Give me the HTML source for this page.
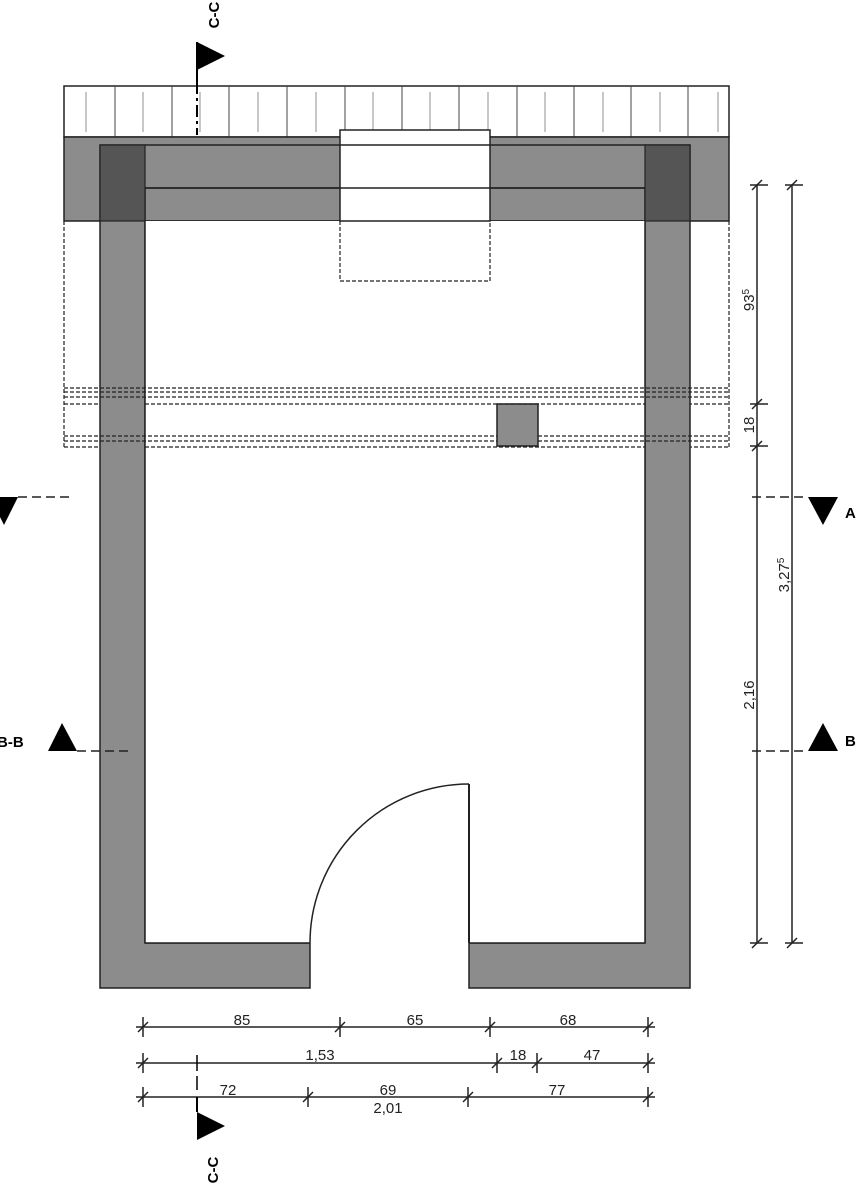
<!DOCTYPE html>
<html><head><meta charset="utf-8"><style>body{margin:0;background:#fff}svg{display:block}text{font-family:"Liberation Sans",sans-serif;font-size:15px;fill:#222}</style></head><body>
<svg width="857" height="1200" viewBox="0 0 857 1200" xmlns="http://www.w3.org/2000/svg">
<rect x="64" y="86" width="665" height="51" fill="#fff" stroke="#222" stroke-width="1.5"/>
<g stroke="#444" stroke-width="1">
<line x1="115" y1="86" x2="115" y2="137"/><line x1="172" y1="86" x2="172" y2="137"/><line x1="229" y1="86" x2="229" y2="137"/><line x1="287" y1="86" x2="287" y2="137"/><line x1="345" y1="86" x2="345" y2="137"/><line x1="402" y1="86" x2="402" y2="137"/><line x1="459" y1="86" x2="459" y2="137"/><line x1="517" y1="86" x2="517" y2="137"/><line x1="574" y1="86" x2="574" y2="137"/><line x1="631" y1="86" x2="631" y2="137"/><line x1="688" y1="86" x2="688" y2="137"/>
</g>
<g stroke="#777" stroke-width="0.8">
<line x1="86" y1="92" x2="86" y2="132"/><line x1="143" y1="92" x2="143" y2="132"/><line x1="200" y1="92" x2="200" y2="132"/><line x1="258" y1="92" x2="258" y2="132"/><line x1="316" y1="92" x2="316" y2="132"/><line x1="373" y1="92" x2="373" y2="132"/><line x1="430" y1="92" x2="430" y2="132"/><line x1="488" y1="92" x2="488" y2="132"/><line x1="545" y1="92" x2="545" y2="132"/><line x1="603" y1="92" x2="603" y2="132"/><line x1="660" y1="92" x2="660" y2="132"/><line x1="718" y1="92" x2="718" y2="132"/>
</g>
<rect x="64" y="137" width="665" height="84" fill="#8c8c8c" stroke="#222" stroke-width="1.5"/>
<g fill="none" stroke="#222" stroke-width="1.2" stroke-dasharray="4,2">
<line x1="64" y1="221" x2="64" y2="447"/><line x1="729" y1="221" x2="729" y2="447"/>
<line x1="64" y1="388" x2="729" y2="388"/><line x1="64" y1="392" x2="729" y2="392"/><line x1="64" y1="397" x2="729" y2="397"/><line x1="64" y1="404" x2="729" y2="404"/>
<line x1="64" y1="436" x2="729" y2="436"/><line x1="64" y1="441" x2="729" y2="441"/><line x1="64" y1="447" x2="729" y2="447"/>
</g>
<path d="M100 145 H690 V988 H469 V943 H645 V188 H145 V943 H310 V988 H100 Z" fill="#8c8c8c" stroke="#222" stroke-width="1.5"/>
<rect x="100" y="145" width="45" height="76" fill="#555" stroke="#222" stroke-width="1.2"/>
<rect x="645" y="145" width="45" height="76" fill="#555" stroke="#222" stroke-width="1.2"/>
<line x1="145" y1="221" x2="645" y2="221" stroke="#222" stroke-width="1.5"/>
<rect x="145" y="221" width="500" height="722" fill="#fff"/>
<line x1="145" y1="221" x2="145" y2="943" stroke="#222" stroke-width="1.5"/>
<line x1="645" y1="221" x2="645" y2="943" stroke="#222" stroke-width="1.5"/>
<line x1="145" y1="943" x2="310" y2="943" stroke="#222" stroke-width="1.5"/>
<line x1="469" y1="943" x2="645" y2="943" stroke="#222" stroke-width="1.5"/>
<line x1="145" y1="188" x2="645" y2="188" stroke="#222" stroke-width="1.5"/>
<g fill="none" stroke="#222" stroke-width="1.2" stroke-dasharray="4,2">
<line x1="100" y1="388" x2="690" y2="388"/><line x1="100" y1="392" x2="690" y2="392"/><line x1="100" y1="397" x2="690" y2="397"/><line x1="145" y1="404" x2="645" y2="404"/>
<line x1="100" y1="436" x2="690" y2="436"/><line x1="100" y1="441" x2="690" y2="441"/><line x1="145" y1="447" x2="645" y2="447"/>
</g>
<rect x="497" y="404" width="41" height="42" fill="#8c8c8c" stroke="#222" stroke-width="1.5"/>
<rect x="340" y="130" width="150" height="91" fill="#fff" stroke="#222" stroke-width="1.5"/>
<line x1="340" y1="145" x2="490" y2="145" stroke="#222" stroke-width="1.5"/>
<line x1="340" y1="188" x2="490" y2="188" stroke="#222" stroke-width="1.5"/>
<path d="M340 221 V281 H490 V221" fill="none" stroke="#222" stroke-width="1.2" stroke-dasharray="4,2"/>
<line x1="469" y1="784" x2="469" y2="943" stroke="#222" stroke-width="2"/>
<path d="M469 784 A159 159 0 0 0 310 943" fill="none" stroke="#222" stroke-width="1.5"/>
<g stroke="#222" stroke-width="1.5">
<line x1="757" y1="185" x2="757" y2="943"/><line x1="792" y1="185" x2="792" y2="943"/>
<line x1="750" y1="185" x2="768" y2="185"/><line x1="785" y1="185" x2="803" y2="185"/>
<line x1="750" y1="404" x2="768" y2="404"/><line x1="750" y1="446" x2="768" y2="446"/>
<line x1="750" y1="943" x2="768" y2="943"/><line x1="785" y1="943" x2="803" y2="943"/>
<line x1="752" y1="190" x2="762" y2="180"/><line x1="787" y1="190" x2="797" y2="180"/>
<line x1="752" y1="409" x2="762" y2="399"/><line x1="752" y1="451" x2="762" y2="441"/>
<line x1="752" y1="948" x2="762" y2="938"/><line x1="787" y1="948" x2="797" y2="938"/>
</g>
<text transform="translate(754,300) rotate(-90)" text-anchor="middle">93<tspan font-size="10" dy="-5">5</tspan></text>
<text transform="translate(754,425) rotate(-90)" text-anchor="middle">18</text>
<text transform="translate(754,695) rotate(-90)" text-anchor="middle">2,16</text>
<text transform="translate(789,575) rotate(-90)" text-anchor="middle">3,27<tspan font-size="10" dy="-5">5</tspan></text>
<line x1="752" y1="497" x2="808" y2="497" stroke="#222" stroke-width="1.5" stroke-dasharray="9,5"/>
<polygon points="808,497 838,497 823,525" fill="#000"/>
<text x="845" y="518" font-size="20" font-weight="bold" style="fill:#000">A</text>
<line x1="18" y1="497" x2="72" y2="497" stroke="#222" stroke-width="1.5" stroke-dasharray="9,5"/>
<polygon points="-10,497 18,497 4,525" fill="#000"/>
<line x1="752" y1="751" x2="808" y2="751" stroke="#222" stroke-width="1.5" stroke-dasharray="9,5"/>
<polygon points="808,751 838,751 823,723" fill="#000"/>
<text x="845" y="746" font-size="20" font-weight="bold" style="fill:#000">B</text>
<text x="-3" y="747" font-size="20" font-weight="bold" style="fill:#000">B-B</text>
<polygon points="48,751 77,751 62,723" fill="#000"/>
<line x1="77" y1="751" x2="132" y2="751" stroke="#222" stroke-width="1.5" stroke-dasharray="9,5"/>
<line x1="197" y1="42" x2="197" y2="82" stroke="#000" stroke-width="2"/>
<line x1="197" y1="82" x2="197" y2="135" stroke="#000" stroke-width="2" stroke-dasharray="12,4,3,4"/>
<polygon points="197,42 225,56 197,70" fill="#000"/>
<text transform="translate(219,15) rotate(-90)" text-anchor="middle" font-size="20" font-weight="bold" style="fill:#000">C-C</text>
<g stroke="#222" stroke-width="1.5">
<line x1="136" y1="1027" x2="655" y2="1027"/><line x1="136" y1="1063" x2="655" y2="1063"/><line x1="136" y1="1097" x2="655" y2="1097"/>
<line x1="143" y1="1017" x2="143" y2="1037"/><line x1="340" y1="1017" x2="340" y2="1037"/><line x1="490" y1="1017" x2="490" y2="1037"/><line x1="648" y1="1017" x2="648" y2="1037"/>
<line x1="143" y1="1053" x2="143" y2="1073"/><line x1="497" y1="1053" x2="497" y2="1073"/><line x1="537" y1="1053" x2="537" y2="1073"/><line x1="648" y1="1053" x2="648" y2="1073"/>
<line x1="143" y1="1087" x2="143" y2="1107"/><line x1="308" y1="1087" x2="308" y2="1107"/><line x1="468" y1="1087" x2="468" y2="1107"/><line x1="648" y1="1087" x2="648" y2="1107"/>
<line x1="138" y1="1032" x2="148" y2="1022"/><line x1="335" y1="1032" x2="345" y2="1022"/><line x1="485" y1="1032" x2="495" y2="1022"/><line x1="643" y1="1032" x2="653" y2="1022"/>
<line x1="138" y1="1068" x2="148" y2="1058"/><line x1="492" y1="1068" x2="502" y2="1058"/><line x1="532" y1="1068" x2="542" y2="1058"/><line x1="643" y1="1068" x2="653" y2="1058"/>
<line x1="138" y1="1102" x2="148" y2="1092"/><line x1="303" y1="1102" x2="313" y2="1092"/><line x1="463" y1="1102" x2="473" y2="1092"/><line x1="643" y1="1102" x2="653" y2="1092"/>
</g>
<text x="242" y="1025" text-anchor="middle">85</text><text x="415" y="1025" text-anchor="middle">65</text><text x="568" y="1025" text-anchor="middle">68</text>
<text x="320" y="1060" text-anchor="middle">1,53</text><text x="518" y="1060" text-anchor="middle">18</text><text x="592" y="1060" text-anchor="middle">47</text>
<text x="228" y="1095" text-anchor="middle">72</text><text x="388" y="1095" text-anchor="middle">69</text><text x="557" y="1095" text-anchor="middle">77</text>
<text x="388" y="1113" text-anchor="middle">2,01</text>
<line x1="197" y1="1055" x2="197" y2="1071" stroke="#000" stroke-width="1.5"/>
<line x1="197" y1="1076" x2="197" y2="1090" stroke="#000" stroke-width="1.5"/>
<line x1="197" y1="1097" x2="197" y2="1112" stroke="#000" stroke-width="2"/>
<polygon points="197,1112 225,1126 197,1140" fill="#000"/>
<text transform="translate(218,1170) rotate(-90)" text-anchor="middle" font-size="20" font-weight="bold" style="fill:#000">C-C</text>
</svg>
</body></html>
